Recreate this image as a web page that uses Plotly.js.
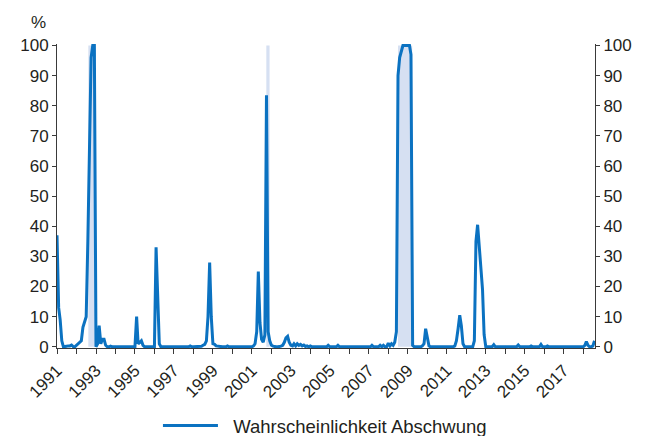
<!DOCTYPE html>
<html>
<head>
<meta charset="utf-8">
<script src="https://cdn.plot.ly/plotly-3.0.1.min.js"></script>
<style>
  html, body { margin: 0; padding: 0; background: #ffffff; }
  #chart { width: 646px; height: 436px; }
</style>
</head>
<body>
<div id="chart"></div>
<script>
// Monthly data, January 1991 to August 2018
const firstYear = 1991;
const seriesName = 'Wahrscheinlichkeit Abschwung';
const yUnit = '%';
const probabilityByYear = [
  /*1991*/ [37, 13, 9, 2, 0, 0, 0.2, 0.3, 0.3, 0.6, 0.1, 0],
  /*1992*/ [0.5, 1, 1.5, 2, 6.5, 8, 10, 35, 70, 96, 100, 100],
  /*1993*/ [0, 1, 7, 1, 2.5, 2.5, 0.5, 0, 0, 0.2, 0, 0],
  /*1994*/ [0, 0, 0, 0, 0, 0, 0, 0, 0, 0, 0, 0],
  /*1995*/ [0, 10, 1, 1.5, 2, 0.5, 0, 0, 0, 0, 0, 0],
  /*1996*/ [0, 33, 16, 1, 0, 0, 0, 0, 0, 0, 0, 0],
  /*1997*/ [0, 0, 0, 0, 0, 0, 0, 0, 0, 0, 0.3, 0],
  /*1998*/ [0, 0, 0, 0, 0, 0.2, 0.5, 0.8, 2, 10, 28, 10],
  /*1999*/ [1, 0.8, 0.3, 0.2, 0, 0, 0, 0, 0, 0.3, 0, 0],
  /*2000*/ [0, 0, 0, 0, 0, 0, 0, 0, 0, 0, 0, 0],
  /*2001*/ [0, 0.3, 1, 5, 25, 8, 2.5, 1.5, 4, 83.5, 5, 2],
  /*2002*/ [0.5, 0.2, 0, 0, 0, 0, 0.2, 0.5, 1.5, 3, 3.5, 1.5],
  /*2003*/ [0.5, 0.3, 1, 0.3, 1, 0.5, 0.8, 0.3, 0.6, 0.1, 0.3, 0],
  /*2004*/ [0.3, 0, 0, 0, 0, 0, 0, 0, 0, 0, 0, 0.5],
  /*2005*/ [0, 0, 0, 0, 0, 0.5, 0, 0, 0, 0, 0, 0],
  /*2006*/ [0, 0, 0, 0, 0, 0, 0, 0, 0, 0, 0, 0],
  /*2007*/ [0, 0, 0.5, 0, 0, 0, 0, 0.5, 0, 0.5, 0, 0],
  /*2008*/ [1.2, 0.3, 1, 0.5, 1.5, 5, 90, 96, 98.5, 100, 100, 100],
  /*2009*/ [100, 100, 97, 0.5, 0, 0, 0, 0, 0, 0.3, 1, 6],
  /*2010*/ [3.5, 0.3, 0, 0, 0, 0, 0, 0, 0, 0, 0, 0],
  /*2011*/ [0, 0, 0, 0, 0, 0.3, 2, 6, 10.5, 7, 1, 0],
  /*2012*/ [0, 0, 0, 0, 0, 2, 35, 40.5, 34, 28, 19, 4],
  /*2013*/ [0, 0, 0, 0, 0, 0.7, 0, 0, 0, 0, 0, 0],
  /*2014*/ [0, 0, 0, 0, 0, 0, 0, 0, 0.6, 0, 0, 0],
  /*2015*/ [0, 0, 0, 0, 0.3, 0, 0, 0, 0, 0, 0.8, 0],
  /*2016*/ [0, 0, 0.3, 0, 0, 0, 0, 0, 0, 0, 0, 0],
  /*2017*/ [0, 0, 0, 0, 0, 0, 0, 0, 0, 0, 0, 0],
  /*2018*/ [0, 0.5, 1.7, 0.5, 0, 0, 0.3, 2]
];
// Shaded periods (light blue bands)
const bandStart = ['1992-08-10', '2001-09-28', '2008-07-01'];
const bandEnd   = ['1993-01-01', '2001-11-28', '2009-03-24'];
const bandTop = 100;
const yTicks = [0, 10, 20, 30, 40, 50, 60, 70, 80, 90, 100];

const dates = [];
const values = [];
probabilityByYear.forEach(function (row, i) {
  const yr = firstYear + i;
  row.forEach(function (v, m) {
    dates.push(yr + '-' + String(m + 1).padStart(2, '0') + '-01');
    values.push(v);
  });
});

const blue = '#0b72c1';
const band = '#d6e0f2';
const axisCol = '#3a3a3a';
const textCol = '#231f20';
const fontFam = '"Liberation Sans", Arial, Helvetica, sans-serif';

const trace = {
  x: dates, y: values, type: 'scatter', mode: 'lines',
  name: '\u00a0\u00a0' + seriesName,
  line: { color: blue, width: 3 },
  hoverinfo: 'skip'
};
// invisible copy so the right-hand axis is drawn
const traceRight = {
  x: dates, y: values, type: 'scatter', mode: 'lines',
  yaxis: 'y2', showlegend: false, opacity: 0,
  line: { color: blue, width: 0 }, hoverinfo: 'skip'
};

const shapes = bandStart.map(function (s, i) {
  return {
    type: 'rect', xref: 'x', yref: 'y', layer: 'below',
    x0: s, x1: bandEnd[i], y0: 0, y1: bandTop,
    fillcolor: band, line: { width: 0 }
  };
});

const yAxisCommon = {
  range: [-0.4, 100.5],
  tickvals: yTicks,
  ticktext: yTicks.map(String),
  showgrid: false, zeroline: false,
  showline: true, linecolor: axisCol, linewidth: 1,
  ticks: 'outside', ticklen: 4, tickwidth: 1, tickcolor: axisCol,
  tickfont: { family: fontFam, size: 17, color: textCol },
  automargin: false,
  fixedrange: true
};

const layout = {
  width: 646, height: 436,
  margin: { l: 57, r: 51, t: 44, b: 88 },
  paper_bgcolor: '#ffffff', plot_bgcolor: '#ffffff',
  font: { family: fontFam, size: 17, color: textCol },
  showlegend: true,
  legend: {
    orientation: 'h', xref: 'container', yref: 'container',
    x: 0.2445, xanchor: 'left', y: 0.023, yanchor: 'middle',
    font: { family: fontFam, size: 18.5, color: textCol },
    itemwidth: 55, bgcolor: 'rgba(0,0,0,0)'
  },
  xaxis: {
    type: 'date',
    range: ['1991-01-01', '2018-08-10'],
    tick0: '1991-01-01', dtick: 'M24', tickformat: '%Y',
    tickangle: -45,
    showgrid: false, zeroline: false,
    showline: true, linecolor: axisCol, linewidth: 1,
    ticks: 'outside', ticklen: 5, tickwidth: 1, tickcolor: axisCol,
    minor: { dtick: 'M12', tick0: '1991-01-01', ticks: 'outside', ticklen: 5, tickwidth: 1, tickcolor: axisCol, showgrid: false },
    tickfont: { family: fontFam, size: 17, color: textCol },
    automargin: false,
    fixedrange: true
  },
  yaxis: Object.assign({}, yAxisCommon, { side: 'left' }),
  yaxis2: Object.assign({}, yAxisCommon, { side: 'right', overlaying: 'y' }),
  shapes: shapes,
  annotations: [{
    text: yUnit, xref: 'paper', yref: 'paper',
    x: -0.034, y: 1.07, xanchor: 'center', yanchor: 'middle',
    showarrow: false, font: { family: fontFam, size: 17, color: textCol }
  }]
};

Plotly.newPlot('chart', [trace, traceRight], layout, { displayModeBar: false, staticPlot: true });
</script>
</body>
</html>
